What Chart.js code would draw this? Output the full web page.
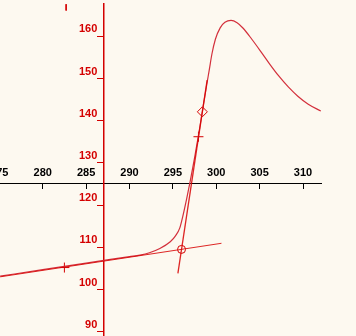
<!DOCTYPE html>
<html>
<head>
<meta charset="utf-8">
<script src="https://cdn.jsdelivr.net/npm/chart.js@4/dist/chart.umd.min.js"></script>
<style>
  html, body { margin: 0; padding: 0; background: #fdf9f0; }
  #wrap { width: 356px; height: 336px; }
</style>
</head>
<body>
<div id="wrap"><canvas id="curveChart"></canvas></div>
<script>
// Main curve (x, y)
const curveX = [275.1, 280, 285, 288, 290, 291.2, 292.3, 293.5, 294.7, 295.3, 295.8, 296.15, 296.6, 297.0, 297.5, 298.0, 298.4, 298.9, 299.2, 299.5, 299.9, 300.45, 301.0, 301.7, 302.4, 303.1, 304.1, 305.2, 306.2, 307.2, 308.3, 309.4, 310.6, 312.05];
const curveY = [103.15, 104.7, 106.25, 107.2, 107.8, 108.15, 108.7, 109.7, 111.3, 112.7, 114.6, 117.4, 121.6, 125.7, 131.2, 137.1, 142.2, 148.5, 152.1, 155.8, 159.3, 162.0, 163.3, 163.75, 163.2, 161.9, 159.3, 156.2, 153.3, 150.6, 148.0, 145.8, 143.9, 142.3];

// Baseline tangent and steep tangent
const lowLineX = [275.1, 300.6];
const lowLineY = [103.0, 110.95];
const steepLineX = [295.58, 298.95];
const steepLineY = [103.8, 149.6];

// Markers
const crossX = [282.5, 297.95];
const crossY = [105.2, 136.2];
const diamondX = [298.4];
const diamondY = [142.1];
const circleX = [296.0];
const circleY = [109.5];
const topMarkX = [282.7, 282.7];
const topMarkY = [167.6, 166.1];

// Axes
const xTicks = [275, 280, 285, 290, 295, 300, 305, 310];
const yTicks = [90, 100, 110, 120, 130, 140, 150, 160];
const xMin = 275.08, xMax = 312.07;
const yMin = 88.98, yMax = 167.65;
const xCross = 287, yCross = 125;

const RED = '#d40000';
const labelFont = { family: 'Liberation Sans', weight: 'bold', size: 11 };

function toPoints(xs, ys) {
    return xs.map((x, i) => ({ x: x, y: ys[i] }));
}

function noPadding(scale) {
    scale.paddingLeft = 0;
    scale.paddingRight = 0;
    scale.paddingTop = 0;
    scale.paddingBottom = 0;
}

const ctx = document.getElementById('curveChart').getContext('2d');

const curveChart = new Chart(ctx, {
    type: 'scatter',
    data: {
        datasets: [
            {
                data: toPoints(lowLineX, lowLineY),
                showLine: true,
                borderColor: 'rgba(215, 0, 0, 0.85)',
                borderWidth: 1,
                pointRadius: 0
            },
            {
                data: toPoints(steepLineX, steepLineY),
                showLine: true,
                borderColor: 'rgba(215, 0, 0, 0.85)',
                borderWidth: 1.3,
                pointRadius: 0
            },
            {
                data: toPoints(curveX, curveY),
                showLine: true,
                borderColor: '#d3303c',
                borderWidth: 1.2,
                pointRadius: 0,
                cubicInterpolationMode: 'monotone'
            },
            {
                data: toPoints(topMarkX, topMarkY),
                showLine: true,
                borderColor: RED,
                borderWidth: 1,
                pointRadius: 0
            },
            {
                data: toPoints(crossX, crossY),
                pointStyle: 'cross',
                pointRadius: 5,
                pointBorderColor: RED,
                pointBorderWidth: 1
            },
            {
                data: toPoints(diamondX, diamondY),
                pointStyle: 'rectRot',
                pointRadius: 5,
                pointBackgroundColor: 'rgba(0,0,0,0)',
                pointBorderColor: RED,
                pointBorderWidth: 1
            },
            {
                data: toPoints(circleX, circleY),
                pointStyle: 'circle',
                pointRadius: 4,
                pointBackgroundColor: 'rgba(0,0,0,0)',
                pointBorderColor: RED,
                pointBorderWidth: 1
            }
        ]
    },
    options: {
        responsive: true,
        maintainAspectRatio: false,
        animation: false,
        layout: { autoPadding: false, padding: { left: 0, right: 35, top: 4, bottom: 0 } },
        plugins: {
            legend: { display: false },
            tooltip: { enabled: false }
        },
        scales: {
            x: {
                type: 'linear',
                min: xMin,
                max: xMax,
                position: { y: yCross },
                afterBuildTicks: s => { s.ticks = xTicks.map(v => ({ value: v })); },
                afterFit: noPadding,
                grid: { drawOnChartArea: false, tickLength: 5, tickColor: '#000' },
                border: { color: '#000', width: 1 },
                ticks: { color: '#000', font: labelFont, padding: -23, maxRotation: 0, autoSkip: false }
            },
            y: {
                type: 'linear',
                min: yMin,
                max: yMax,
                position: { x: xCross },
                afterBuildTicks: s => { s.ticks = yTicks.map(v => ({ value: v })); },
                afterFit: noPadding,
                grid: { drawOnChartArea: false, tickLength: 6, tickColor: RED },
                border: { color: RED, width: 1.5 },
                // trailing spaces keep the labels clear of the tick marks
                ticks: { color: RED, font: labelFont, labelOffset: -7, padding: 0, autoSkip: false,
                         callback: v => v + '  ' }
            }
        }
    }
});
</script>
</body>
</html>
